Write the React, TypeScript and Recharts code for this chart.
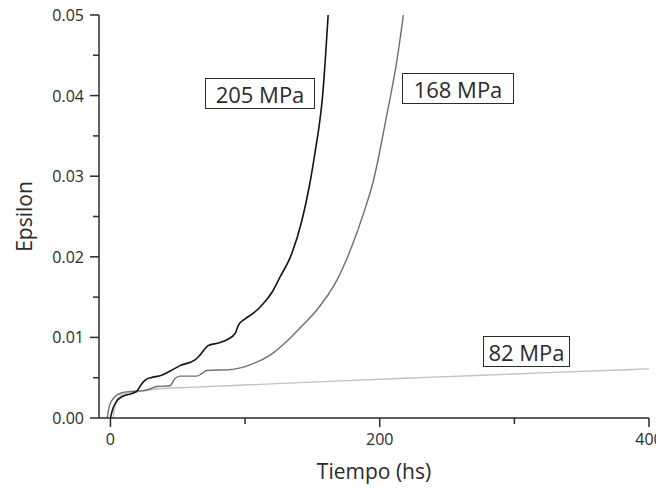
import { LineChart, Line, XAxis, YAxis } from 'recharts'

const FONT = '"Open Sans", "Noto Sans", sans-serif'
const INK = '#2b2b2b'

// tiempo (hs) / epsilon for each stress level
const T205 = [0, 1.9, 4.3, 9.3, 17, 20, 23, 26.6, 30, 38, 44.2, 51.7, 62.8, 66.5, 72.7, 80.1, 87.6, 92.6, 95, 100, 106.2, 113.6, 120, 126, 134.7, 142.2, 148, 152, 155.2, 157.6, 159.8, 161.7]
const E205 = [0, 0.0012, 0.002, 0.0027, 0.0031, 0.0034, 0.0042, 0.0048, 0.005, 0.0053, 0.0058, 0.0065, 0.0072, 0.0078, 0.009, 0.0093, 0.0098, 0.0105, 0.0115, 0.0123, 0.013, 0.0142, 0.0156, 0.0175, 0.0204, 0.0245, 0.029, 0.033, 0.0365, 0.04, 0.045, 0.05]

const T168 = [-2.4, -0.6, 3.1, 8, 15.5, 24.4, 29.4, 34.3, 44.2, 48, 51.7, 64, 67.8, 71.5, 88.8, 103.7, 118.6, 132.2, 140.9, 153.3, 168.2, 179.3, 188, 195.4, 204.8, 212.8, 217.6]
const E168 = [0, 0.0016, 0.0026, 0.0031, 0.0033, 0.0034, 0.0036, 0.0039, 0.004, 0.0049, 0.0052, 0.0052, 0.0055, 0.0059, 0.006, 0.0066, 0.0078, 0.0097, 0.0112, 0.0134, 0.0171, 0.0213, 0.0254, 0.0295, 0.0372, 0.0444, 0.05]

const T82 = [1.9, 3.5, 5.6, 9, 13, 22, 34.3, 59, 100, 170.6, 245, 320, 400]
const E82 = [0, 0.0015, 0.0025, 0.0029, 0.0031, 0.0033, 0.0036, 0.0038, 0.0041, 0.0046, 0.0051, 0.0056, 0.0061]

const X_TICKS = [0, 100, 200, 300, 400]
const X_LABELED = [0, 200, 400]
const Y_TICKS = [0, 0.005, 0.01, 0.015, 0.02, 0.025, 0.03, 0.035, 0.04, 0.045, 0.05]

const zip = (ts: number[], es: number[]) => ts.map((t, i) => ({ t, e: es[i] }))

const d205 = zip(T205, E205)
const d168 = zip(T168, E168)
const d82 = zip(T82, E82)

function XTick({ x, y, payload }: any) {
  const major = X_LABELED.includes(payload.value)
  return (
    <g>
      <line x1={x} x2={x} y1={y} y2={y + (major ? 9 : 6)} stroke={INK} strokeWidth={1.5} />
      {major && (
        <text x={x} y={y + 27} textAnchor="middle" fontSize={16} fill={INK} fontFamily={FONT}>
          {payload.value}
        </text>
      )}
    </g>
  )
}

function YTick({ x, y, payload }: any) {
  const major = Math.round(payload.value * 1000) % 10 === 0
  return (
    <g>
      <line x1={x - (major ? 9 : 6)} x2={x} y1={y} y2={y} stroke={INK} strokeWidth={1.5} />
      {major && (
        <text x={x - 15} y={y + 6} textAnchor="end" fontSize={16} fill={INK} fontFamily={FONT}>
          {payload.value.toFixed(2)}
        </text>
      )}
    </g>
  )
}

function YTitle({ viewBox }: any) {
  const cx = 32
  const cy = viewBox ? viewBox.y + viewBox.height / 2 : 217
  return (
    <text x={cx} y={cy} transform={`rotate(-90 ${cx} ${cy})`} textAnchor="middle" fontSize={21} fill={INK} fontFamily={FONT}>
      Epsilon
    </text>
  )
}

const boxStyle: React.CSSProperties = {
  position: 'absolute',
  boxSizing: 'border-box',
  border: `1.5px solid ${INK}`,
  background: '#fff',
  display: 'flex',
  alignItems: 'center',
  justifyContent: 'center',
  fontFamily: FONT,
  fontSize: 22,
  color: INK,
  lineHeight: 1,
}

export default function App() {
  // cancel the body margin so chart pixels line up with the page
  return (
    <div style={{ position: 'relative', width: 664, height: 488, margin: '-8px 0 0 -8px' }}>
      <LineChart width={664} height={488} data={d82} margin={{ top: 15, right: 15, left: 0, bottom: 0 }}>
        <XAxis
          dataKey="t"
          type="number"
          domain={[-8.5, 400]}
          ticks={X_TICKS}
          interval={0}
          allowDataOverflow
          height={70}
          tickSize={0}
          tickMargin={0}
          tick={<XTick />}
          axisLine={{ stroke: INK, strokeWidth: 1.5 }}
          label={{ value: 'Tiempo (hs)', position: 'insideBottom', offset: 9, fill: INK, fontSize: 21, fontFamily: FONT }}
        />
        <XAxis xAxisId="top" orientation="top" type="number" domain={[0, 1]} height={0} tick={false} tickLine={false} axisLine={{ stroke: INK, strokeWidth: 1.5 }} />
        <YAxis
          type="number"
          domain={[0, 0.05]}
          ticks={Y_TICKS}
          interval={0}
          allowDataOverflow
          width={99}
          tickSize={0}
          tickMargin={0}
          tick={<YTick />}
          axisLine={{ stroke: INK, strokeWidth: 1.5 }}
          label={{ content: YTitle }}
        />
        <YAxis yAxisId="right" orientation="right" type="number" domain={[0, 1]} width={0} tick={false} tickLine={false} axisLine={{ stroke: INK, strokeWidth: 1.5 }} />
        <Line data={d82} dataKey="e" type="monotone" stroke="#c2c2c2" strokeWidth={1.4} dot={false} isAnimationActive={false} />
        <Line data={d168} dataKey="e" type="monotone" stroke="#6f6f6f" strokeWidth={1.4} dot={false} isAnimationActive={false} />
        <Line data={d205} dataKey="e" type="monotone" stroke="#141414" strokeWidth={1.6} dot={false} isAnimationActive={false} />
      </LineChart>
      <div style={{ ...boxStyle, left: 205, top: 78, width: 110, height: 31 }}>205 MPa</div>
      <div style={{ ...boxStyle, left: 402, top: 73, width: 112, height: 31 }}>168 MPa</div>
      <div style={{ ...boxStyle, left: 483, top: 336, width: 87, height: 31 }}>82 MPa</div>
    </div>
  )
}
